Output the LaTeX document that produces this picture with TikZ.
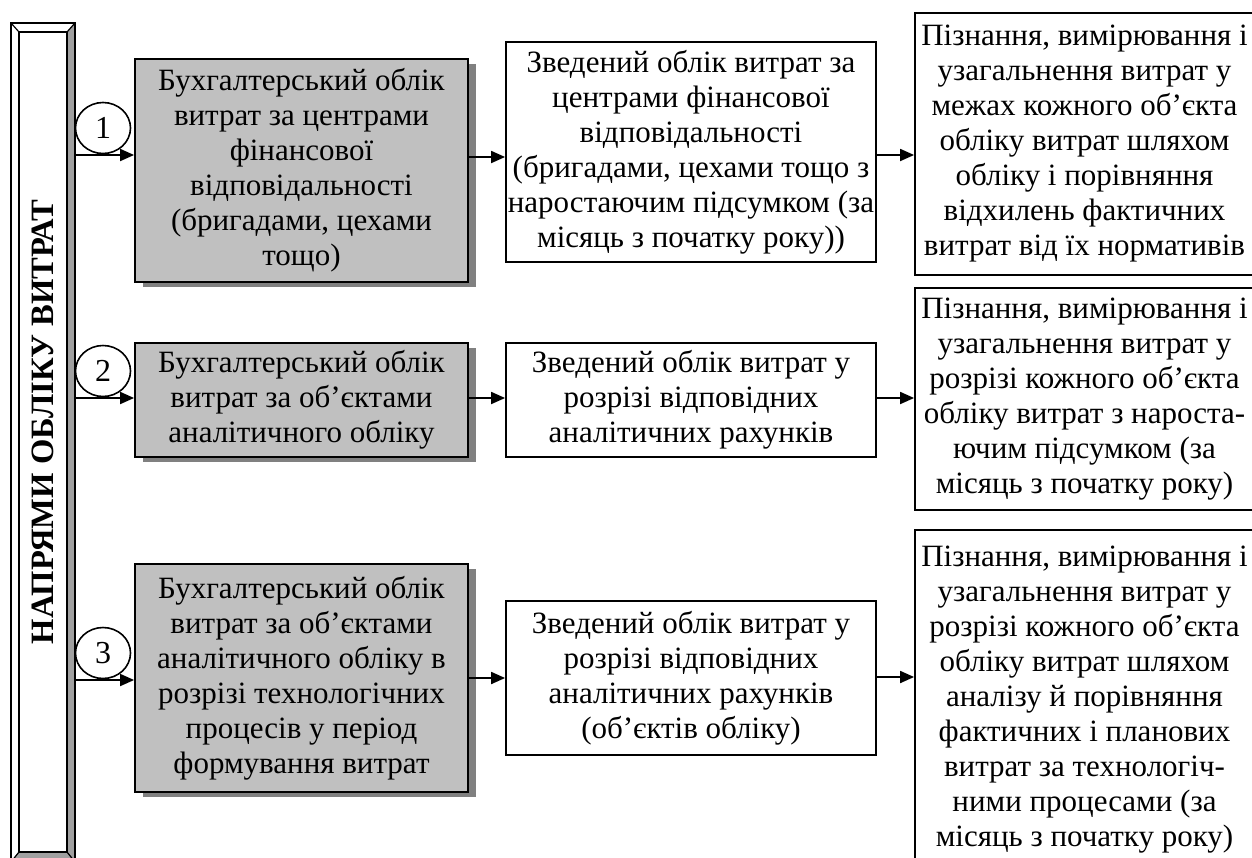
\documentclass[tikz,border=0pt]{standalone}
\usepackage{fontspec}
\setmainfont{Liberation Serif}
\usetikzlibrary{arrows.meta,shadows,shapes.geometric}
\begin{document}
\begin{tikzpicture}[x=0.5pt,y=-0.5pt,
  every node/.style={font=\fontsize{15.5}{17.5}\selectfont},
  graybox/.style={draw, line width=0.9pt, fill=graybg, inner sep=0pt, align=center,
    drop shadow={shadow xshift=4pt, shadow yshift=-2.5pt, fill=shadowgray, opacity=1}},
  whitebox/.style={draw, line width=0.9pt, fill=white, inner sep=0pt, align=center},
  numcirc/.style={draw, ellipse, line width=0.8pt, fill=white, inner sep=0pt,
    minimum width=27.5pt, minimum height=25.5pt, font=\fontsize{16}{18}\selectfont},
  arr/.style={line width=0.9pt, -{Triangle[length=7pt,width=6pt]}}
]
\definecolor{graybg}{RGB}{192,192,192}
\definecolor{shadowgray}{RGB}{128,128,128}
\definecolor{bevelgray}{RGB}{160,160,160}
\clip (0,0) rectangle (1252,857);
\useasboundingbox (0,0) rectangle (1252,857);

% left bevelled bar
\fill[white] (11,23) -- (75,23) -- (67,32) -- (19,32) -- cycle;
\fill[white] (11,23) -- (19,32) -- (19,852) -- (11,862) -- cycle;
\fill[bevelgray] (75,23) -- (75,862) -- (67,852) -- (67,32) -- cycle;
\fill[bevelgray] (11,862) -- (75,862) -- (67,852) -- (19,852) -- cycle;
\draw[line width=0.8pt] (11,23) rectangle (75,862);
\draw[line width=0.8pt] (19,32) rectangle (67,852);
\draw[line width=0.6pt] (11,23) -- (19,32) (75,23) -- (67,32) (11,862) -- (19,852) (75,862) -- (67,852);
\node[rotate=90, font=\fontsize{16.3}{18}\selectfont\bfseries] (bar) at (43,422) {НАПРЯМИ ОБЛІКУ ВИТРАТ};

% column 1 (gray)
\node[graybox, minimum width=166.5pt, minimum height=111.5pt] (g1) at (301.5,170.5)
  {Бухгалтерський облік\\витрат за центрами\\фінансової\\відповідальності\\(бригадами, цехами\\тощо)};
\node[graybox, minimum width=166.5pt, minimum height=57pt] (g2) at (301.5,400)
  {Бухгалтерський облік\\витрат за об’єктами\\аналітичного обліку};
\node[graybox, minimum width=166.5pt, minimum height=114pt] (g3) at (301.5,678)
  {Бухгалтерський облік\\витрат за об’єктами\\аналітичного обліку в\\розрізі технологічних\\процесів у період\\формування витрат};

% column 2
\node[whitebox, minimum width=185pt, minimum height=110pt] (w1) at (691,152)
  {Зведений облік витрат за\\центрами фінансової\\відповідальності\\(бригадами, цехами тощо з\\наростаючим підсумком (за\\місяць з початку року))};
\node[whitebox, minimum width=185pt, minimum height=57pt] (w2) at (691,400)
  {Зведений облік витрат у\\розрізі відповідних\\аналітичних рахунків};
\node[whitebox, minimum width=185pt, minimum height=77pt] (w3) at (691,678)
  {Зведений облік витрат у\\розрізі відповідних\\аналітичних рахунків\\(об’єктів обліку)};

% column 3
\node[whitebox, minimum width=169.5pt, minimum height=131pt] (r1) at (1084.5,144)
  {Пізнання, вимірювання і\\узагальнення витрат у\\межах кожного об’єкта\\обліку витрат шляхом\\обліку і порівняння\\відхилень фактичних\\витрат від їх нормативів};
\node[whitebox, minimum width=169.5pt, minimum height=111pt] (r2) at (1084.5,399)
  {Пізнання, вимірювання і\\узагальнення витрат у\\розрізі кожного об’єкта\\обліку витрат з нароста-\\ючим підсумком (за\\місяць з початку року)};
\node[whitebox, minimum width=169.5pt, minimum height=170pt] (r3) at (1084.5,700)
  {Пізнання, вимірювання і\\узагальнення витрат у\\розрізі кожного об’єкта\\обліку витрат шляхом\\аналізу й порівняння\\фактичних і планових\\витрат за технологіч-\\ними процесами (за\\місяць з початку року)};

% number circles
\node[numcirc] (c1) at (103,128) {1};
\node[numcirc] (c2) at (103,371) {2};
\node[numcirc] (c3) at (103,653) {3};

% connectors
\coordinate (s1) at (75,155);
\coordinate (s2) at (75,398);
\coordinate (s3) at (75,680);
\draw[arr] (s1) -- (g1.west |- s1);
\draw[arr] (s2) -- (g2.west |- s2);
\draw[arr] (s3) -- (g3.west |- s3);

\coordinate (m1) at (0,157);
\coordinate (m2) at (0,398);
\coordinate (m3) at (0,678);
\draw[arr] (g1.east |- m1) -- (w1.west |- m1);
\draw[arr] (g2.east |- m2) -- (w2.west |- m2);
\draw[arr] (g3.east |- m3) -- (w3.west |- m3);

\coordinate (n1) at (0,155);
\coordinate (n2) at (0,398);
\coordinate (n3) at (0,677);
\draw[arr] (w1.east |- n1) -- (r1.west |- n1);
\draw[arr] (w2.east |- n2) -- (r2.west |- n2);
\draw[arr] (w3.east |- n3) -- (r3.west |- n3);
\end{tikzpicture}
\end{document}
